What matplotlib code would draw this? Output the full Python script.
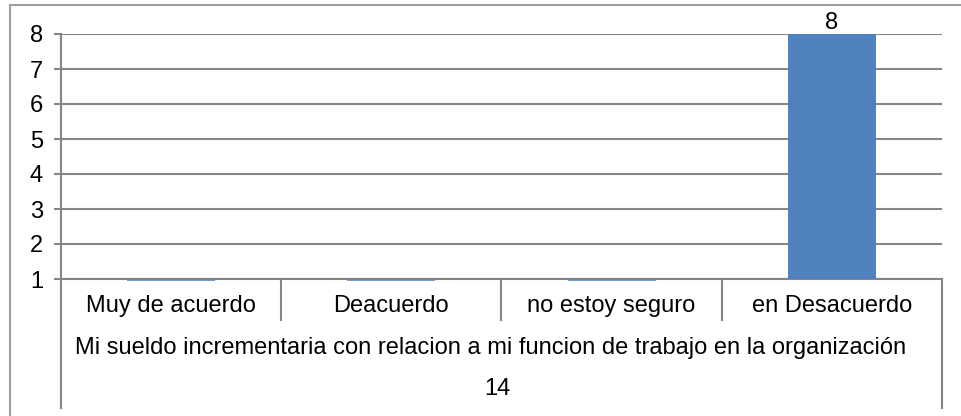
import matplotlib.pyplot as plt
from matplotlib.lines import Line2D
from matplotlib.transforms import blended_transform_factory, ScaledTranslation

plt.rcParams['font.family'] = ['Liberation Sans', 'DejaVu Sans']

categorias = ['Muy de acuerdo', 'Deacuerdo', 'no estoy seguro', 'en Desacuerdo']
valores = [1, 1, 1, 8]
pregunta = 'Mi sueldo incrementaria con relacion a mi funcion de trabajo en la organización'
numero = '14'
y_ticks = [1, 2, 3, 4, 5, 6, 7, 8]

W, H = 962, 416
gris = '#868686'
azul = '#4f81bd'
fs = 17

fig = plt.figure(figsize=(W / 100, H / 100), dpi=100)

# marco exterior (solo izquierda y arriba)
fig.add_artist(Line2D([10 / W, 10 / W], [0, 1 - 5 / H], transform=fig.transFigure, color='#a0a0a0', lw=1.5))
fig.add_artist(Line2D([10 / W, 1], [1 - 5 / H, 1 - 5 / H], transform=fig.transFigure, color='#a0a0a0', lw=1.5))

x0, x1, ytop, ybot = 61, 942, 34, 279
ax = fig.add_axes([x0 / W, 1 - ybot / H, (x1 - x0) / W, (ybot - ytop) / H])

base = y_ticks[0]
pos = list(range(len(categorias)))
ax.bar(pos, [v - base for v in valores], bottom=base, width=0.4, color=azul, zorder=3)
# barras de altura cero: una linea fina bajo el eje
abajo = ax.transData + ScaledTranslation(0, -1.2 / 100, fig.dpi_scale_trans)
for p, v in zip(pos, valores):
    if v == base:
        ax.plot([p - 0.2, p + 0.2], [base, base], color=azul, lw=1.1, zorder=2,
                solid_capstyle='butt', transform=abajo, clip_on=False)
    else:
        ax.text(p, v, str(v), ha='center', va='bottom', fontsize=fs, zorder=4)

ax.set_xlim(-0.5, len(categorias) - 0.5)
ax.set_ylim(base, y_ticks[-1])
ax.set_yticks(y_ticks)
ax.set_xticks([])
ax.yaxis.grid(True, color=gris, lw=1.5, zorder=1)
ax.set_axisbelow(True)
ax.tick_params(axis='y', length=5, width=1.5, color=gris, labelsize=fs, pad=8)
for s in ['top', 'right']:
    ax.spines[s].set_visible(False)
ax.spines['left'].set_color(gris)
ax.spines['left'].set_linewidth(1.5)
ax.spines['bottom'].set_color(gris)
ax.spines['bottom'].set_linewidth(1.5)

# tabla de etiquetas bajo el eje
h = ybot - ytop
tr = blended_transform_factory(ax.transData, ax.transAxes)
y_sep = -(320 - ybot) / h
y_fin = -(408 - ybot) / h
ax.plot([-0.5, -0.5], [0, y_fin], transform=tr, color=gris, lw=1.5, clip_on=False)
ax.plot([len(categorias) - 0.5] * 2, [0, y_fin], transform=tr, color=gris, lw=1.5, clip_on=False)
for k in range(1, len(categorias)):
    ax.plot([k - 0.5, k - 0.5], [0, y_sep], transform=tr, color=gris, lw=1.5, clip_on=False)

for p, c in zip(pos, categorias):
    ax.text(p, -(306 - ybot) / h, c, transform=tr, ha='center', va='center', fontsize=fs)
ax.text(1.45, -(348 - ybot) / h, pregunta, transform=tr, ha='center', va='center', fontsize=fs)
ax.text(1.48, -(389 - ybot) / h, numero, transform=tr, ha='center', va='center', fontsize=fs)

fig.savefig('out.png', dpi=100)
